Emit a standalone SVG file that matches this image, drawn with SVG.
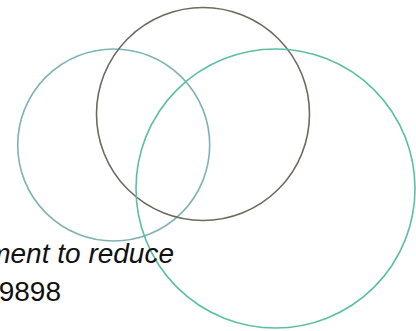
<svg xmlns="http://www.w3.org/2000/svg" width="416" height="331" viewBox="0 0 416 331">
<style>
.c{fill:none;stroke-width:1.6}
.t{font-family:"Liberation Sans",Arial,sans-serif;font-size:28px;fill:#111}
</style>
<rect width="416" height="331" fill="#fff"/>
<g id="circle-left"><circle class="c" cx="113.7" cy="145" r="96" stroke="#7fb3b3"/></g>
<g id="circle-top"><circle class="c" cx="203" cy="114" r="106.5" stroke="#6e6a5e"/></g>
<g id="circle-right"><circle class="c" cx="275.5" cy="188.5" r="139.5" stroke="#5cbfa5"/></g>
<g id="labels">
<text class="t" x="174" y="263" text-anchor="end" font-style="italic">ment to reduce</text>
<text class="t" x="61" y="301" text-anchor="end">9898</text>
</g>
</svg>
